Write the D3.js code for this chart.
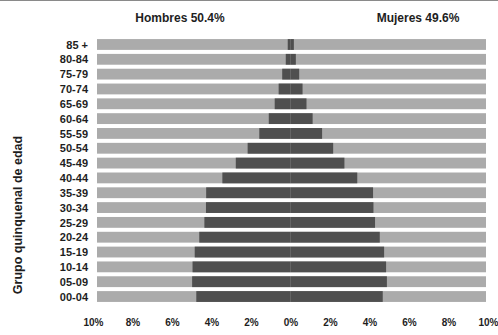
<!DOCTYPE html>
<html>
<head>
<meta charset="utf-8">
<script src="https://cdn.jsdelivr.net/npm/d3@7"></script>
<style>
  html, body { margin: 0; padding: 0; background: #ffffff; }
  svg { display: block; }
  text { font-family: "Liberation Sans Narrow", "Arial Narrow", "Liberation Sans", Arial, sans-serif; font-weight: bold; fill: #1e1e1e; }
</style>
</head>
<body>
<svg id="chart" width="498" height="335"></svg>
<script>
// Age groups, top to bottom
const ageGroups = ["85 +", "80-84", "75-79", "70-74", "65-69", "60-64", "55-59", "50-54",
  "45-49", "40-44", "35-39", "30-34", "25-29", "20-24", "15-19", "10-14", "05-09", "00-04"];

// Share of total population (%) per age group
const hombres = [0.14, 0.24, 0.42, 0.60, 0.80, 1.10, 1.58, 2.17, 2.77, 3.45,
  4.27, 4.28, 4.36, 4.62, 4.85, 4.96, 4.98, 4.77];
const mujeres = [0.17, 0.27, 0.44, 0.61, 0.81, 1.12, 1.60, 2.16, 2.73, 3.38,
  4.18, 4.20, 4.28, 4.52, 4.74, 4.84, 4.88, 4.67];

const totalHombres = "50.4%";
const totalMujeres = "49.6%";

// Axis ticks (signed values; labels are shown without sign)
const tickValues = [-10, -8, -6, -4, -2, 0, 2, 4, 6, 8, 10];

const svg = d3.select("#chart");

const x = d3.scaleLinear().domain([-10, 10]).range([93, 488]);
const y = d3.scaleBand().domain(ageGroups).range([37, 304]).paddingInner(0.27).paddingOuter(0.14);

// Plot area horizontal extent for the background stripes
const stripeLeft = 97, stripeRight = 486;

// Background stripes, one per age group
svg.append("g")
  .selectAll("rect")
  .data(ageGroups)
  .join("rect")
  .attr("x", stripeLeft)
  .attr("width", stripeRight - stripeLeft)
  .attr("y", d => y(d))
  .attr("height", y.bandwidth())
  .attr("fill", "#ababab");

// Men bars (left side)
svg.append("g")
  .selectAll("rect")
  .data(ageGroups.map((g, i) => ({ g, v: hombres[i] })))
  .join("rect")
  .attr("x", d => x(-d.v))
  .attr("width", d => x(0) - x(-d.v))
  .attr("y", d => y(d.g))
  .attr("height", y.bandwidth())
  .attr("fill", "#4f4f4f");

// Women bars (right side)
svg.append("g")
  .selectAll("rect")
  .data(ageGroups.map((g, i) => ({ g, v: mujeres[i] })))
  .join("rect")
  .attr("x", x(0))
  .attr("width", d => x(d.v) - x(0))
  .attr("y", d => y(d.g))
  .attr("height", y.bandwidth())
  .attr("fill", "#4f4f4f");

// Age group labels
const yAxis = d3.axisLeft(y).tickSize(0).tickPadding(0);
const gy = svg.append("g")
  .attr("transform", "translate(88,0)")
  .call(yAxis);
gy.select(".domain").remove();
gy.selectAll("text")
  .style("font-size", "11px")
  .attr("dy", "0.38em")
  .attr("fill", "#1e1e1e");

// Percent axis
const xAxis = d3.axisBottom(x)
  .tickValues(tickValues)
  .tickSize(0)
  .tickPadding(0)
  .tickFormat(d => Math.abs(d) + "%");
const gx = svg.append("g")
  .attr("transform", "translate(0,319)")
  .call(xAxis);
gx.select(".domain").remove();
gx.selectAll("text")
  .style("font-size", "10px")
  .attr("fill", "#1e1e1e");

// Headers
svg.append("text")
  .attr("x", 180).attr("y", 22)
  .attr("text-anchor", "middle")
  .style("font-size", "12px")
  .text("Hombres " + totalHombres);
svg.append("text")
  .attr("x", 418).attr("y", 22)
  .attr("text-anchor", "middle")
  .style("font-size", "12px")
  .text("Mujeres " + totalMujeres);

// Vertical axis title
svg.append("text")
  .attr("transform", "translate(22,215) rotate(-90)")
  .attr("text-anchor", "middle")
  .style("font-size", "12.5px")
  .text("Grupo quinquenal de edad");

// Thin frame line along the top edge
svg.append("line")
  .attr("x1", 0).attr("x2", 498)
  .attr("y1", 0.5).attr("y2", 0.5)
  .attr("stroke", "#8a8a8a")
  .attr("stroke-width", 1);
</script>
</body>
</html>
